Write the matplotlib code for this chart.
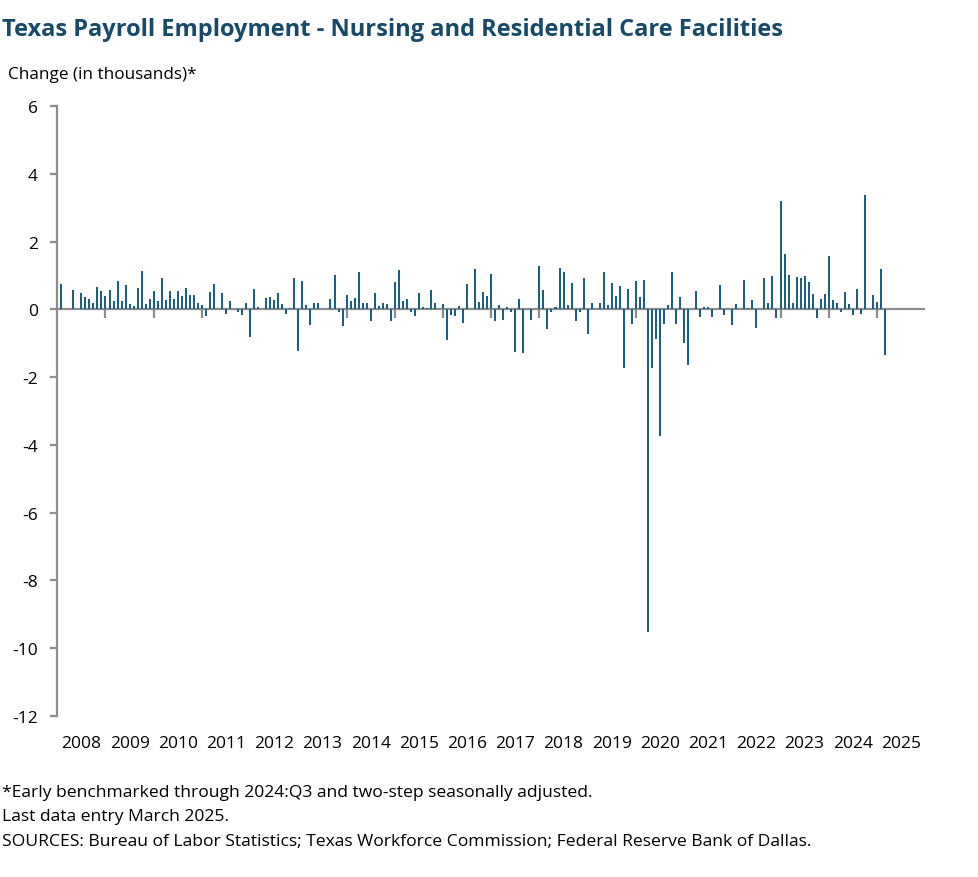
import matplotlib
matplotlib.use("Agg")
import matplotlib.pyplot as plt
import numpy as np

plt.rcParams['font.family'] = ['Open Sans', 'DejaVu Sans']

# monthly change in thousands, Jan 2008 .. Mar 2025
change = [
    0.00, 0.76, 0.00, 0.00, 0.58, 0.00, 0.49, 0.37, 0.31, 0.20, 0.67, 0.55,      # 2008
    0.40, 0.58, 0.26, 0.85, 0.26, 0.73, 0.17, 0.11, 0.64, 1.14, 0.17, 0.31,      # 2009
    0.55, 0.26, 0.93, 0.29, 0.55, 0.31, 0.55, 0.40, 0.64, 0.43, 0.43, 0.20,      # 2010
    0.14, -0.21, 0.52, 0.76, 0.00, 0.49, -0.13, 0.26, 0.00, -0.07, -0.16, 0.20,  # 2011
    -0.81, 0.61, 0.08, 0.00, 0.34, 0.37, 0.29, 0.49, 0.17, -0.13, 0.05, 0.93,   # 2012
    -1.22, 0.85, 0.14, -0.45, 0.20, 0.20, 0.00, 0.00, 0.31, 1.02, -0.07, -0.48,  # 2013
    0.43, 0.26, 0.34, 1.11, 0.20, 0.20, -0.33, 0.49, 0.11, 0.20, 0.17, -0.33,    # 2014
    0.82, 1.17, 0.26, 0.31, -0.07, -0.19, 0.49, 0.08, 0.03, 0.58, 0.20, 0.00,    # 2015
    0.17, -0.89, -0.16, -0.19, 0.11, -0.39, 0.76, 0.00, 1.20, 0.23, 0.52, 0.40,  # 2016
    1.05, -0.33, 0.14, -0.30, 0.08, -0.07, -1.25, 0.31, -1.28, 0.00, -0.30, 0.00,  # 2017
    1.28, 0.58, -0.57, -0.07, 0.08, 1.23, 1.11, 0.14, 0.79, -0.33, -0.07, 0.93,  # 2018
    -0.72, 0.20, 0.00, 0.20, 1.11, 0.14, 0.79, 0.40, 0.70, -1.72, 0.61, -0.42,   # 2019
    0.85, 0.37, 0.87, -9.52, -1.72, -0.88, -3.75, -0.44, 0.14, 1.11, -0.44, 0.37,  # 2020
    -0.98, -1.65, 0.00, 0.55, -0.22, 0.08, 0.08, -0.22, 0.00, 0.73, -0.16, 0.00,  # 2021
    -0.45, 0.17, 0.00, 0.87, 0.05, 0.29, -0.54, 0.00, 0.93, 0.20, 0.99, -0.25,   # 2022
    3.21, 1.64, 1.02, 0.20, 0.96, 0.93, 0.99, 0.82, 0.46, -0.25, 0.31, 0.46,     # 2023
    1.58, 0.29, 0.20, -0.07, 0.52, 0.17, -0.16, 0.61, -0.13, 3.38, 0.00, 0.43,   # 2024
    0.23, 1.20, -1.34,                                                           # 2025
]
years = list(range(2008, 2026))
yticks = list(range(-12, 7, 2))

bar_color = "#1b5f82"
title_color = "#174a69"
axis_grey = "#8c8c8c"

fig = plt.figure(figsize=(9.79, 8.78), dpi=100)
ax = fig.add_axes([0.0585, 0.1834, 0.8865, 0.6947])

x = np.arange(len(change))
ax.bar(x, change, width=0.5, color=bar_color, zorder=2)

ax.set_xlim(0, 12 * len(years))
ax.set_ylim(-12, 6)

# zero line and year boundary ticks
ax.axhline(0, color=axis_grey, lw=1.6, zorder=1)
ax.vlines([12 * i for i in range(1, len(years))], -0.25, 0, color=axis_grey, lw=1.6, zorder=1)

for s in ["top", "right", "bottom"]:
    ax.spines[s].set_visible(False)
ax.spines["left"].set_color(axis_grey)
ax.spines["left"].set_linewidth(1.6)

ax.set_yticks(yticks)
ax.set_yticklabels([str(v) for v in yticks])
ax.tick_params(axis="y", length=5, width=1.6, color=axis_grey, labelsize=12.5, pad=9)
ax.set_xticks([12 * i + 6 for i in range(len(years))])
ax.set_xticklabels([str(y) for y in years])
ax.tick_params(axis="x", length=0, labelsize=12.5, pad=14)

fig.text(0.002, 0.966, "Texas Payroll Employment - Nursing and Residential Care Facilities",
         fontsize=17, fontweight="bold", color=title_color, va="center", ha="left")
fig.text(0.008, 0.915, "Change (in thousands)*", fontsize=12.3, va="center", ha="left")

fig.text(0.002, 0.097, "*Early benchmarked through 2024:Q3 and two-step seasonally adjusted.",
         fontsize=12.6, va="center", ha="left")
fig.text(0.002, 0.070, "Last data entry March 2025.", fontsize=12.6, va="center", ha="left")
fig.text(0.002, 0.041, "SOURCES: Bureau of Labor Statistics; Texas Workforce Commission; Federal Reserve Bank of Dallas.",
         fontsize=12.6, va="center", ha="left")

fig.savefig("out.png", dpi=100)
